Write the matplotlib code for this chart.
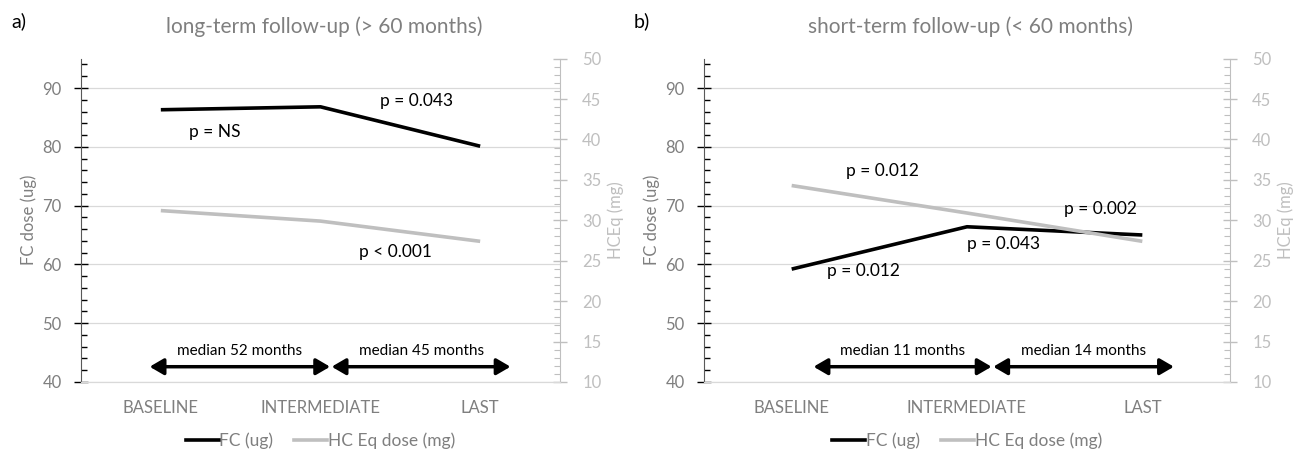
import numpy as np
import matplotlib
matplotlib.use("Agg")
import matplotlib.pyplot as plt
from matplotlib.ticker import MultipleLocator
from matplotlib.patches import FancyArrowPatch

plt.rcParams['font.family'] = ['Lato', 'DejaVu Sans']

# --- data ---
categories = ["BASELINE", "INTERMEDIATE", "LAST"]

fc_long = [86.3, 86.8, 80.1]
hc_long = [31.2, 29.9, 27.4]
fc_short = [59.2, 66.4, 65.0]
hc_short = [34.3, 30.9, 27.4]

titles = ["long-term follow-up (> 60 months)", "short-term follow-up (< 60 months)"]
panel_tags = ["a)", "b)"]

# p-value labels: (text, x in category units, y on FC axis)
pvals_long = [("p = NS", 0.34, 82.5), ("p = 0.043", 1.60, 87.8), ("p < 0.001", 1.47, 62.1)]
pvals_short = [("p = 0.012", 0.52, 75.8), ("p = 0.002", 1.76, 69.4),
               ("p = 0.043", 1.21, 63.5), ("p = 0.012", 0.41, 58.8)]

# follow-up arrows: (label, start, end)
spans_long = [("median 52 months", -0.07, 1.06), ("median 45 months", 1.07, 2.19)]
spans_short = [("median 11 months", 0.125, 1.14), ("median 14 months", 1.15, 2.18)]

DARK = "#7f7f7f"
LIGHT = "#bfbfbf"
GRID = "#d9d9d9"

fig = plt.figure(figsize=(13, 4.54), dpi=100)
W, H = 1300, 454
boxes = [(81, 560), (704, 1230)]
top_px, bot_px = 58.6, 382

panels = [(fc_long, hc_long, pvals_long, spans_long),
          (fc_short, hc_short, pvals_short, spans_short)]

for i, (fc, hc, pvals, spans) in enumerate(panels):
    x0, x1 = boxes[i]
    ax = fig.add_axes([x0 / W, 1 - bot_px / H, (x1 - x0) / W, (bot_px - top_px) / H])
    ax2 = ax.twinx()
    x = np.arange(len(categories))

    ax.plot(x, fc, color="black", lw=2.6, solid_capstyle="butt", zorder=3)
    ax2.plot(x, hc, color=LIGHT, lw=2.6, solid_capstyle="butt", zorder=3)

    ax.set_xlim(-0.5, 2.5)
    ax.set_ylim(40, 95)
    ax2.set_ylim(10, 50)

    ax.set_xticks(x)
    ax.set_xticklabels(categories, color=DARK, fontsize=12)
    ax.tick_params(axis='x', length=0, pad=13)

    ax.yaxis.set_major_locator(MultipleLocator(10))
    ax.yaxis.set_minor_locator(MultipleLocator(2))
    ax.set_yticks(np.arange(40, 91, 10))
    ax.tick_params(axis='y', which='major', direction='inout', length=10, width=1,
                   color="black", labelcolor=DARK, labelsize=12, pad=9)
    ax.tick_params(axis='y', which='minor', direction='in', length=4, width=1, color="black")
    ax.grid(axis='y', color=GRID, lw=0.9)
    ax.set_axisbelow(True)

    ax2.yaxis.set_major_locator(MultipleLocator(5))
    ax2.yaxis.set_minor_locator(MultipleLocator(1))
    ax2.tick_params(axis='y', which='major', direction='inout', length=10, width=1,
                    color=LIGHT, labelcolor=LIGHT, labelsize=12, pad=11)
    ax2.tick_params(axis='y', which='minor', direction='in', length=4, width=0.8, color=LIGHT)

    for a in (ax, ax2):
        a.spines['top'].set_visible(False)
        a.spines['bottom'].set_color(GRID)
    ax.spines['right'].set_visible(False)
    ax2.spines['left'].set_visible(False)
    ax.spines['left'].set_color("#595959")
    ax2.spines['right'].set_color(LIGHT)

    ax.set_ylabel("FC dose (ug)", color=DARK, fontsize=12, labelpad=4)
    ax2.set_ylabel("HCEq (mg)", color=LIGHT, fontsize=12, labelpad=4)

    for txt, px, py in pvals:
        ax.text(px, py, txt, ha='center', va='center', fontsize=12.5, color="black", zorder=4)

    for label, s, e in spans:
        arr = FancyArrowPatch((s, 42.6), (e, 42.6), arrowstyle="<|-|>,head_length=0.6,head_width=0.35",
                              mutation_scale=14, color="black", lw=2.5, shrinkA=0, shrinkB=0, zorder=4)
        ax.add_patch(arr)
        ax.text((s + e) / 2, 45.2, label, ha='center', va='center', fontsize=11, color="black")

    # legend
    h1, = ax.plot([], [], color="black", lw=2.6)
    h2, = ax.plot([], [], color=LIGHT, lw=2.6)
    cx = (x0 + x1) / 2 / W
    fig.legend([h1, h2], ["FC (ug)", "HC Eq dose (mg)"], loc='center', bbox_to_anchor=(cx, 1 - 441 / H),
               ncol=2, frameon=False, fontsize=12.5, labelcolor=DARK, handlelength=1.9,
               handletextpad=0.05, columnspacing=1.2)

    fig.text(cx + 0.003, 1 - 27 / H, titles[i], ha='center', va='center', fontsize=15, color=DARK)
    fig.text((x0 - 70) / W, 1 - 21 / H, panel_tags[i], ha='left', va='center', fontsize=14, color="black")

fig.savefig("out.png", dpi=100)
